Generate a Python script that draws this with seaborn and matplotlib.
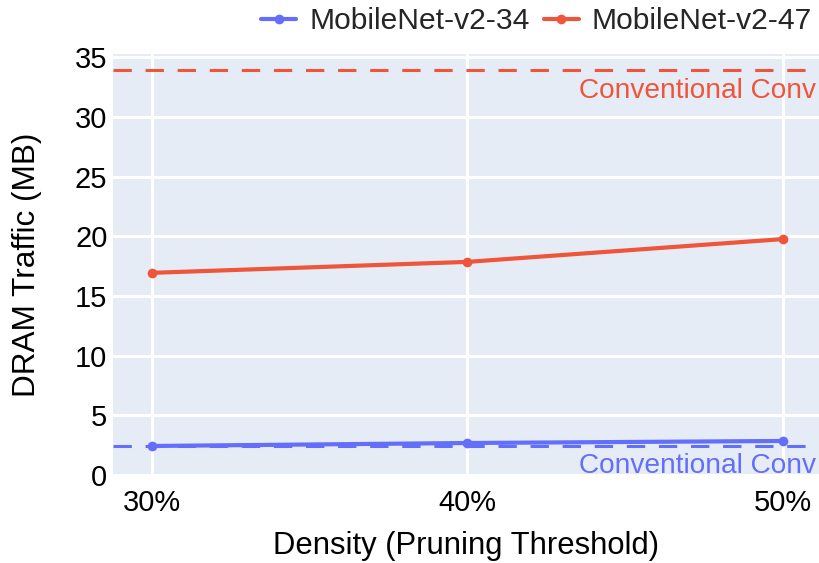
import matplotlib
matplotlib.use("Agg")
import matplotlib.pyplot as plt
from matplotlib.ticker import FuncFormatter, MultipleLocator
import pandas as pd
import seaborn as sns

# Pruning threshold (density, %) and DRAM traffic per model (MB)
density = [30, 40, 50]
traffic_v2_34 = [2.43, 2.68, 2.85]
traffic_v2_47 = [16.93, 17.85, 19.76]
series_names = ["MobileNet-v2-34", "MobileNet-v2-47"]
# Conventional convolution baselines (MB)
baseline_v2_34 = 2.43
baseline_v2_47 = 33.9
baseline_label = "Conventional Conv"

BLUE = "#636EFA"
RED = "#EF553B"
BG = "#E5ECF6"

df = pd.DataFrame({
    "density": density * 2,
    "traffic": traffic_v2_34 + traffic_v2_47,
    "model": [series_names[0]] * 3 + [series_names[1]] * 3,
})

sns.set_theme(style="white")
plt.rcParams["font.family"] = ["Liberation Sans", "DejaVu Sans"]

px = 0.72  # points per pixel at 100 dpi
fig = plt.figure(figsize=(8.2, 5.63), dpi=100)
ax = fig.add_axes([113 / 820, (563 - 475) / 563, 1 - 113 / 820, (475 - 54) / 563])
ax.set_facecolor(BG)

sns.lineplot(data=df, x="density", y="traffic", hue="model",
             palette=[BLUE, RED], marker="o", markersize=7, markeredgewidth=0,
             linewidth=3, ax=ax, legend=True, zorder=3)

ax.set_xlim(28.77, 51.17)
ax.set_ylim(0, 35.26)
ax.xaxis.set_major_locator(MultipleLocator(10))
ax.yaxis.set_major_locator(MultipleLocator(5))
ax.xaxis.set_major_formatter(FuncFormatter(lambda v, p: f"{v:.0f}%"))
ax.grid(True, color="white", linewidth=2.2)
ax.set_axisbelow(True)
for s in ax.spines.values():
    s.set_visible(False)
ax.tick_params(axis="both", length=0, labelsize=29 * px, colors="black")
ax.tick_params(axis="x", pad=10)
ax.tick_params(axis="y", pad=4)

# Baseline levels
dash = dict(linestyle=(0, (6, 4.5)), linewidth=2.2, zorder=2)
ax.axhline(baseline_v2_47, color=RED, **dash)
ax.axhline(baseline_v2_34, color=BLUE, **dash)
ax.annotate(baseline_label, xy=(1, baseline_v2_47), xycoords=("axes fraction", "data"),
            xytext=(-4, -8), textcoords="offset pixels", ha="right", va="top",
            color=RED, fontsize=28 * px)
ax.annotate(baseline_label, xy=(1, baseline_v2_34), xycoords=("axes fraction", "data"),
            xytext=(-4, -7), textcoords="offset pixels", ha="right", va="top",
            color=BLUE, fontsize=28 * px)

ax.set_xlabel("Density (Pruning Threshold)", fontsize=31 * px, labelpad=10.5, color="black")
ax.set_ylabel("DRAM Traffic (MB)", fontsize=31.5 * px, labelpad=24, color="black")

handles, labels = ax.get_legend_handles_labels()
ax.get_legend().remove()
fig.legend(handles, labels, loc="center right", bbox_to_anchor=(812 / 820, 1 - 21 / 563),
           ncol=2, frameon=False, fontsize=30 * px, handlelength=1.17,
           handletextpad=0.43, columnspacing=0.47, borderpad=0, borderaxespad=0)

fig.savefig("out.png", dpi=100)
